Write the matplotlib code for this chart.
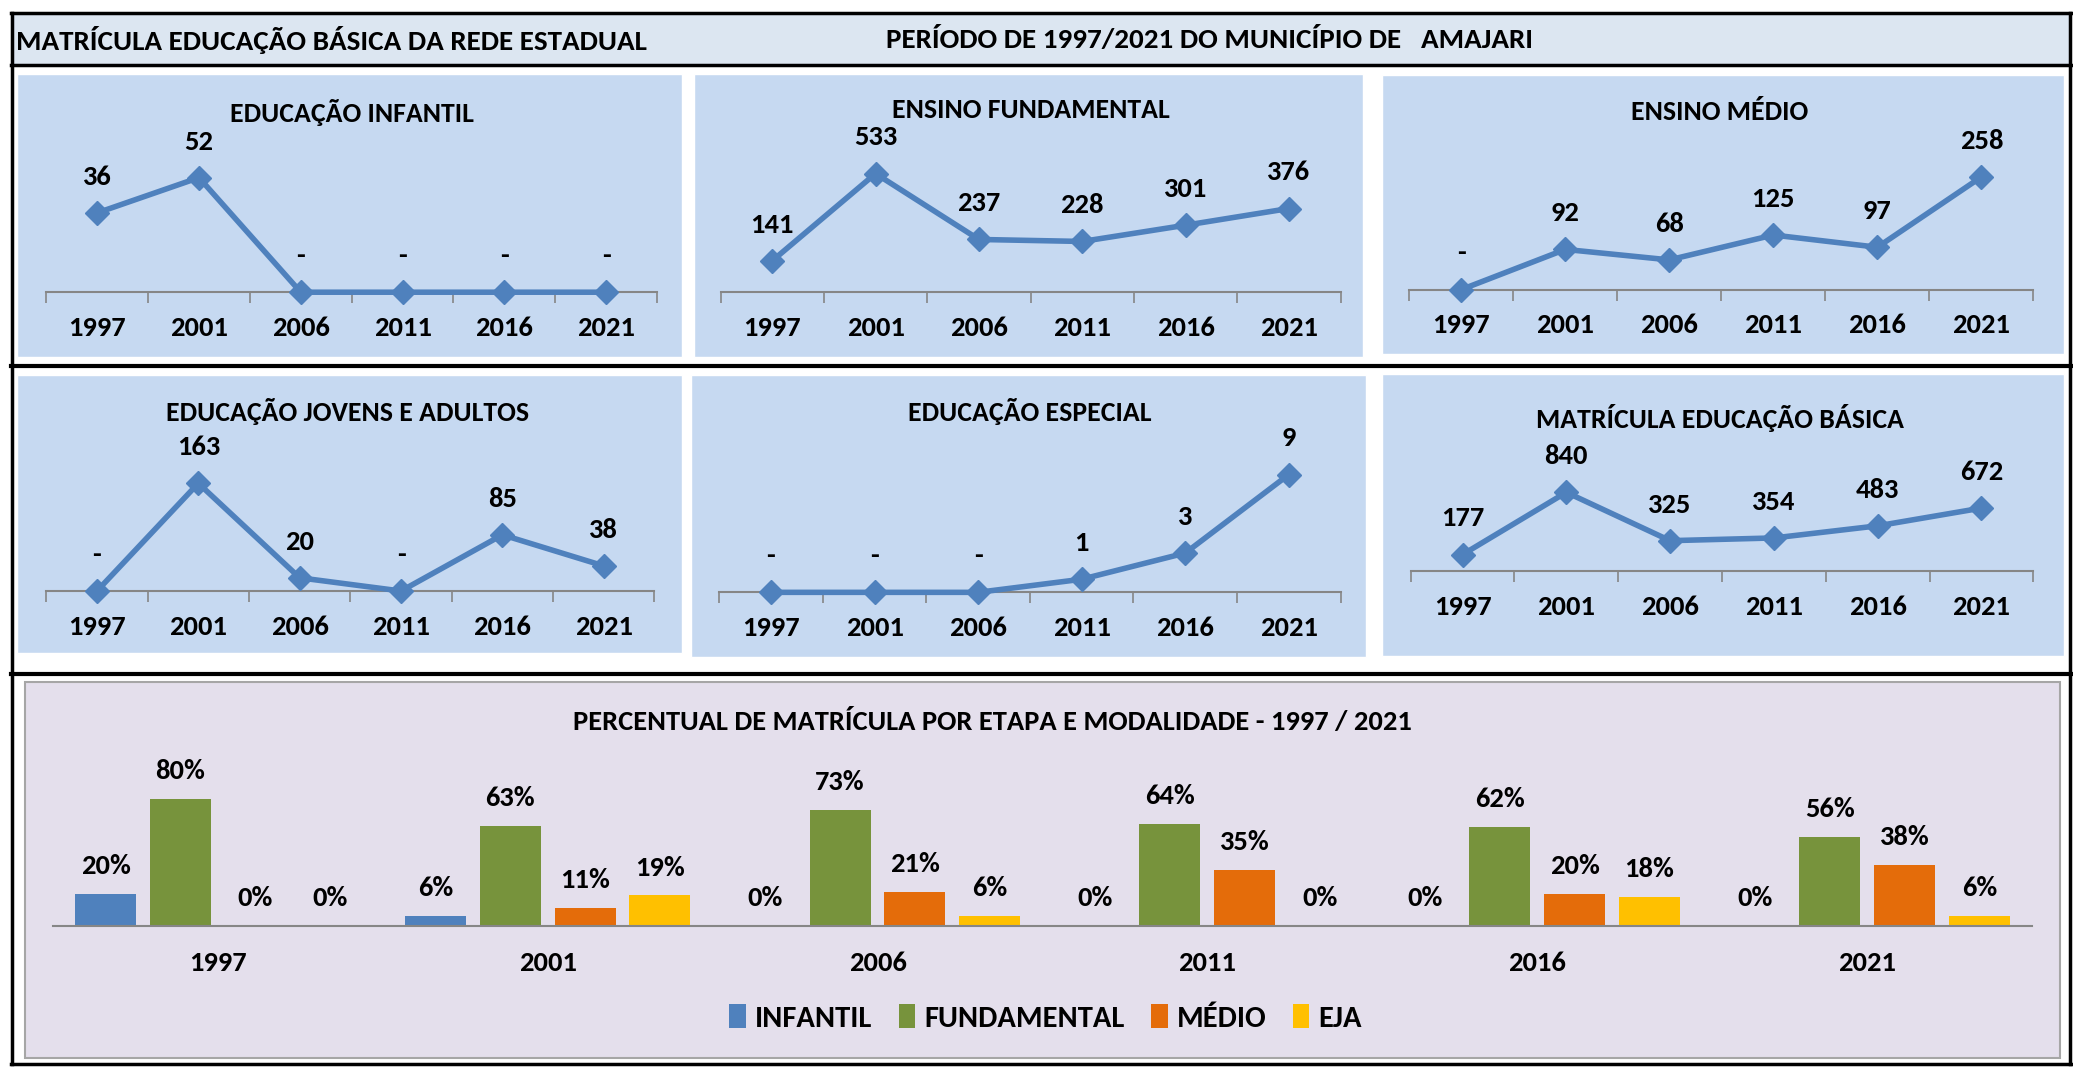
import matplotlib
matplotlib.use("Agg")
import matplotlib.pyplot as plt
from matplotlib.patches import Rectangle
from matplotlib.lines import Line2D
import numpy as np

plt.rcParams['font.family'] = ['Carlito', 'DejaVu Sans']
plt.rcParams['font.weight'] = 'bold'

# data
YEARS = ['1997', '2001', '2006', '2011', '2016', '2021']
infantil = [36, 52, 0, 0, 0, 0]
fundamental = [141, 533, 237, 228, 301, 376]
medio = [0, 92, 68, 125, 97, 258]
eja = [0, 163, 20, 0, 85, 38]
especial = [0, 0, 0, 1, 3, 9]
basica = [177, 840, 325, 354, 483, 672]

pct_infantil = [20, 6, 0, 0, 0, 0]
pct_fundamental = [80, 63, 73, 64, 62, 56]
pct_medio = [0, 11, 21, 35, 20, 38]
pct_eja = [0, 19, 6, 0, 18, 6]

PCT_NAMES = ['INFANTIL', 'FUNDAMENTAL', 'MÉDIO', 'EJA']
PCT_COLORS = ['#4f81bd', '#77933c', '#e46c0a', '#ffc000']

LINE_COLOR = '#4f81bd'
PANEL_BLUE = '#c6d9f1'
PANEL_LILAC = '#e4dfec'
HEADER_BG = '#dce6f1'

FS = 20  # main text size

# layout is worked out on a 1568 x 807 grid, then turned into figure fractions
W, H = 1568.0, 807.0

fig = plt.figure(figsize=(20.73, 10.67), dpi=100)
fig.patch.set_facecolor('white')


def frac(x0, y0, x1, y1):
    return [x0 / W, 1 - y1 / H, (x1 - x0) / W, (y1 - y0) / H]


def panel(x0, y0, x1, y1, color, edge='white', lw=1.0):
    r = Rectangle((x0 / W, 1 - y1 / H), (x1 - x0) / W, (y1 - y0) / H,
                  transform=fig.transFigure, facecolor=color,
                  edgecolor=edge, linewidth=lw, zorder=-1)
    fig.patches.append(r)


def hline(y, x0, x1, lw=2.5):
    fig.add_artist(Line2D([x0 / W, x1 / W], [1 - y / H, 1 - y / H],
                          color='black', linewidth=lw, zorder=5))


def vline(x, y0, y1, lw=2.5):
    fig.add_artist(Line2D([x / W, x / W], [1 - y0 / H, 1 - y1 / H],
                          color='black', linewidth=lw, zorder=5))


def fmt(v):
    if v == 0:
        return '-'
    return str(v)


def line_chart(axbox, values, ymax, title, title_y, title_x):
    ax = fig.add_axes(frac(*axbox))
    ax.patch.set_alpha(0)
    x = np.arange(len(values))
    ax.plot(x, values, color=LINE_COLOR, linewidth=4, marker='D',
            markersize=12, clip_on=False, zorder=3)
    for xi, v in zip(x, values):
        ax.annotate(fmt(v), (xi, v), xytext=(0, 26), textcoords='offset points',
                    ha='center', va='center', fontsize=FS + 0.5, fontweight='bold')
    ax.set_xlim(-0.5, len(values) - 0.5)
    ax.set_ylim(0, ymax)
    ax.set_yticks([])
    ax.set_xticks(x)
    ax.set_xticklabels(YEARS, fontsize=FS + 0.5, fontweight='bold')
    ax.set_xticks(np.arange(-0.5, len(values)), minor=True)
    ax.tick_params(axis='x', which='major', length=0, pad=17)
    ax.tick_params(axis='x', which='minor', length=8, color='#868686', width=1.2)
    for s in ['top', 'left', 'right']:
        ax.spines[s].set_visible(False)
    ax.spines['bottom'].set_color('#868686')
    ax.spines['bottom'].set_linewidth(1.5)
    fig.text(title_x / W, 1 - title_y / H, title, ha='center', va='center',
             fontsize=FS, fontweight='bold')
    return ax


# header band
panel(8, 10, 1566, 48, HEADER_BG, edge=HEADER_BG)
fig.text(12 / W, 1 - 30 / H, 'MATRÍCULA EDUCAÇÃO BÁSICA DA REDE ESTADUAL',
         ha='left', va='center', fontsize=21, fontweight='bold')
fig.text(915 / W, 1 - 30 / H, 'PERÍODO DE 1997/2021 DO MUNICÍPIO DE   AMAJARI',
         ha='center', va='center', fontsize=21, fontweight='bold')

# panels
panel(13, 56, 516, 270, PANEL_BLUE)
panel(525, 56, 1031, 270, PANEL_BLUE)
panel(1045, 57, 1561, 268, PANEL_BLUE)
panel(13, 284, 516, 494, PANEL_BLUE)
panel(523, 284, 1033, 497, PANEL_BLUE)
panel(1045, 283, 1561, 496, PANEL_BLUE)
panel(19, 516, 1558, 800, PANEL_LILAC, edge='#a6a6a6', lw=1.5)

# frame lines
hline(10, 8, 1567)
hline(49, 8, 1567)
hline(277, 8, 1567, lw=3)
hline(510, 8, 1567, lw=3)
hline(805, 8, 1567)
vline(9, 10, 805)
vline(1566, 10, 805)

# line charts
line_chart((35, 121, 497, 221), infantil, 60, 'EDUCAÇÃO INFANTIL', 85, 266)
line_chart((545, 120, 1014, 221), fundamental, 600, 'ENSINO FUNDAMENTAL', 83, 780)
line_chart((1066, 120, 1538, 219), medio, 300, 'ENSINO MÉDIO', 85, 1301)
line_chart((35, 347, 495, 447), eja, 200, 'EDUCAÇÃO JOVENS E ADULTOS', 311, 263)
line_chart((544, 349, 1014, 448), especial, 10, 'EDUCAÇÃO ESPECIAL', 311, 779)
line_chart((1067, 361, 1538, 432), basica, 1000, 'MATRÍCULA EDUCAÇÃO BÁSICA', 316, 1301)

# bar chart of percentages
bx = fig.add_axes(frac(40, 580, 1537, 700))
bx.patch.set_alpha(0)
series = [pct_infantil, pct_fundamental, pct_medio, pct_eja]
x = np.arange(len(YEARS))
step = 0.227
width = 0.185
for i, (vals, name, col) in enumerate(zip(series, PCT_NAMES, PCT_COLORS)):
    pos = x + (i - 1.5) * step
    bx.bar(pos, vals, width=width, color=col, label=name, zorder=2)
    for p, v in zip(pos, vals):
        bx.annotate(f'{v}%', (p, v), xytext=(0, 20), textcoords='offset points',
                    ha='center', va='center', fontsize=FS + 0.5, fontweight='bold')
bx.set_xlim(-0.5, len(YEARS) - 0.5)
bx.set_ylim(0, 100)
bx.set_yticks([])
bx.set_xticks(x)
bx.set_xticklabels(YEARS, fontsize=FS + 0.5, fontweight='bold')
bx.tick_params(axis='x', length=0, pad=18)
for s in ['top', 'left', 'right']:
    bx.spines[s].set_visible(False)
bx.spines['bottom'].set_color('#868686')
bx.spines['bottom'].set_linewidth(1.5)
bx.spines['bottom'].set_zorder(3)

fig.text(751 / W, 1 - 546 / H,
         'PERCENTUAL DE MATRÍCULA POR ETAPA E MODALIDADE - 1997 / 2021',
         ha='center', va='center', fontsize=20.5, fontweight='bold')

leg = bx.legend(loc='center', bbox_to_anchor=(791 / W, 1 - 770 / H),
                bbox_transform=fig.transFigure, ncol=4, frameon=False,
                fontsize=22, handlelength=0.55, handleheight=0.8,
                handletextpad=0.3, columnspacing=0.85)
for t in leg.get_texts():
    t.set_fontweight('bold')

fig.savefig('out.png', dpi=100)
